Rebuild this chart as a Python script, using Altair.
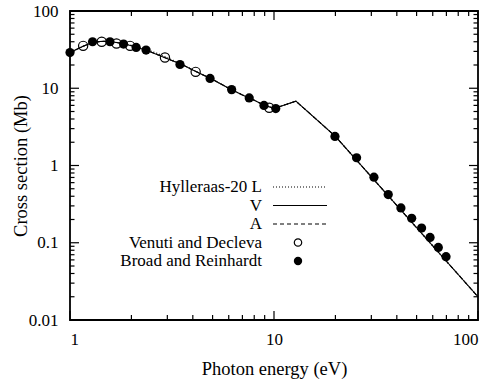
import altair as alt
import pandas as pd

# ---- data ----
line_E = [1.0, 1.16, 1.3, 1.45, 1.6, 1.8, 2.0, 2.2, 2.4, 2.8, 3.2, 3.6, 4.0, 5.0, 6.0, 7.0, 8.0, 9.0, 10.0, 10.7, 12.8, 15.0, 20.0, 100.0]
line_V = [29, 35, 39.5, 40.5, 40, 38, 35.5, 33, 30.5, 26, 22.5, 19.8, 17.2, 13, 10, 8.2, 7.0, 6.0, 5.5, 5.8, 6.8, 4.7, 2.38, 0.02]
line_L = [29, 35, 39.5, 40.5, 40, 38.2, 36, 33.8, 31.5, 27, 23, 20, 17.3, 13, 10, 8.2, 7.0, 6.0, 5.5, 5.8, 6.8, 4.7, 2.38, 0.02]
line_A = [29, 35, 39.5, 40.5, 40, 38, 35.5, 33, 30.6, 26.1, 22.5, 19.8, 17.2, 13, 10, 8.2, 7.0, 6.0, 5.5, 5.8, 6.8, 4.7, 2.38, 0.02]

venuti_E = [1.16, 1.43, 1.69, 1.97, 2.92, 4.13, 9.48]
venuti_S = [35.4, 40, 38, 35.4, 25, 16.3, 5.6]

broad_E = [1.0, 1.29, 1.57, 1.83, 2.11, 2.36, 3.46, 4.86, 6.2, 7.56, 8.93, 10.2,
           19.9, 25.4, 30.9, 36.3, 41.9, 47.3, 52.9, 58.2, 63.9, 69.7]
broad_S = [29, 40, 40, 37.3, 33.8, 31.2, 20.3, 13.4, 9.6, 7.5, 6.0, 5.45,
           2.38, 1.26, 0.705, 0.42, 0.282, 0.207, 0.155, 0.117, 0.087, 0.066]

x_labels = [1, 10, 100]
y_labels = [0.01, 0.1, 1, 10, 100]
x_minor = [2, 3, 4, 5, 6, 7, 8, 9, 20, 30, 40, 50, 60, 70, 80, 90]
y_minor = [m * 10.0 ** e for e in (-2, -1, 0, 1) for m in range(2, 10)]

legend_labels = ["Hylleraas-20 L", "V", "A", "Venuti and Decleva", "Broad and Reinhardt"]

W, H = 408, 309
FONT = "'Liberation Serif', 'Times New Roman', Times, serif"

xs = alt.Scale(type="log", domain=[1, 100], nice=False)
ys = alt.Scale(type="log", domain=[0.01, 100], nice=False)

xaxis = alt.Axis(values=x_labels, format="~g", ticks=False, domain=False, grid=False,
                 labelFont=FONT, labelFontSize=17, labelPadding=11, labelColor="black",
                 title="Photon energy (eV)", titleFont=FONT, titleFontSize=18.5,
                 titleFontWeight="normal", titleColor="black", titleY=48,
                 titleBaseline="middle")
yaxis = alt.Axis(values=y_labels, format="~g", ticks=False, domain=False, grid=False,
                 labelFont=FONT, labelFontSize=17, labelPadding=12, labelColor="black",
                 title="Cross section (Mb)", titleFont=FONT, titleFontSize=18.5,
                 titleFontWeight="normal", titleColor="black", titleX=-50, titleY=H / 2,
                 titleBaseline="middle", titleAngle=-90, titleAlign="center")


def X(f="E"):
    return alt.X(f"{f}:Q", scale=xs, axis=xaxis)


def Y(f="S"):
    return alt.Y(f"{f}:Q", scale=ys, axis=yaxis)


def line_layer(vals, dash):
    df = pd.DataFrame({"E": line_E, "S": vals})
    kw = dict(color="black", strokeWidth=1.1)
    if dash:
        kw["strokeDash"] = dash
    return alt.Chart(df).mark_line(**kw).encode(x=X(), y=Y())


layers = [
    line_layer(line_L, [1, 2]),
    line_layer(line_A, [4, 3]),
    line_layer(line_V, None),
    alt.Chart(pd.DataFrame({"E": venuti_E, "S": venuti_S})).mark_point(
        shape="circle", size=85, filled=False, color="black", strokeWidth=1.2, opacity=1
    ).encode(x=X(), y=Y()),
    alt.Chart(pd.DataFrame({"E": broad_E, "S": broad_S})).mark_point(
        shape="circle", size=85, filled=True, color="black", opacity=1
    ).encode(x=X(), y=Y()),
]

# ---- inward ticks on all four sides ----
def xticks(vals, length):
    df = pd.DataFrame({"E": vals})
    bot = alt.Chart(df).mark_rule(color="black", strokeWidth=1.2).encode(
        x=X(), y=alt.value(H), y2=alt.value(H - length))
    top = alt.Chart(df).mark_rule(color="black", strokeWidth=1.2).encode(
        x=X(), y=alt.value(0), y2=alt.value(length))
    return [bot, top]


def yticks(vals, length):
    df = pd.DataFrame({"S": vals})
    left = alt.Chart(df).mark_rule(color="black", strokeWidth=1.2).encode(
        y=Y(), x=alt.value(0), x2=alt.value(length))
    right = alt.Chart(df).mark_rule(color="black", strokeWidth=1.2).encode(
        y=Y(), x=alt.value(W), x2=alt.value(W - length))
    return [left, right]


layers += xticks(x_labels, 9) + xticks(x_minor, 5) + yticks(y_labels, 9) + yticks(y_minor, 4.5)

# ---- legend (inside the plot, labels left of samples) ----
row_y = [176, 194.5, 213, 231.5, 250]
text_x = 192
line_x0, line_x1 = 203, 257
mark_x = 228
one = pd.DataFrame({"k": [0]})
for lab, yy in zip(legend_labels, row_y):
    layers.append(alt.Chart(pd.DataFrame({"label": [lab]})).mark_text(
        align="right", baseline="middle", font=FONT, fontSize=17, color="black"
    ).encode(text="label:N", x=alt.value(text_x), y=alt.value(yy)))
for dash, yy in zip([[1, 2], None, [4, 3]], row_y[:3]):
    kw = dict(color="black", strokeWidth=1.1)
    if dash:
        kw["strokeDash"] = dash
    layers.append(alt.Chart(one).mark_rule(**kw).encode(
        x=alt.value(line_x0), x2=alt.value(line_x1), y=alt.value(yy)))
layers.append(alt.Chart(one).mark_point(shape="circle", size=55, filled=False, color="black",
                                        strokeWidth=1.2, opacity=1).encode(
    x=alt.value(mark_x), y=alt.value(row_y[3])))
layers.append(alt.Chart(one).mark_point(shape="circle", size=70, filled=True, color="black",
                                        opacity=1).encode(
    x=alt.value(mark_x), y=alt.value(row_y[4])))

chart = alt.layer(*layers).properties(
    width=W, height=H,
    autosize=alt.AutoSizeParams(type="none"),
    padding={"left": 70, "top": 11, "right": 16, "bottom": 62},
    background="white",
).configure_view(stroke="black", strokeWidth=1.8)

chart.save("out.html", embed_options={"renderer": "svg", "actions": False})
